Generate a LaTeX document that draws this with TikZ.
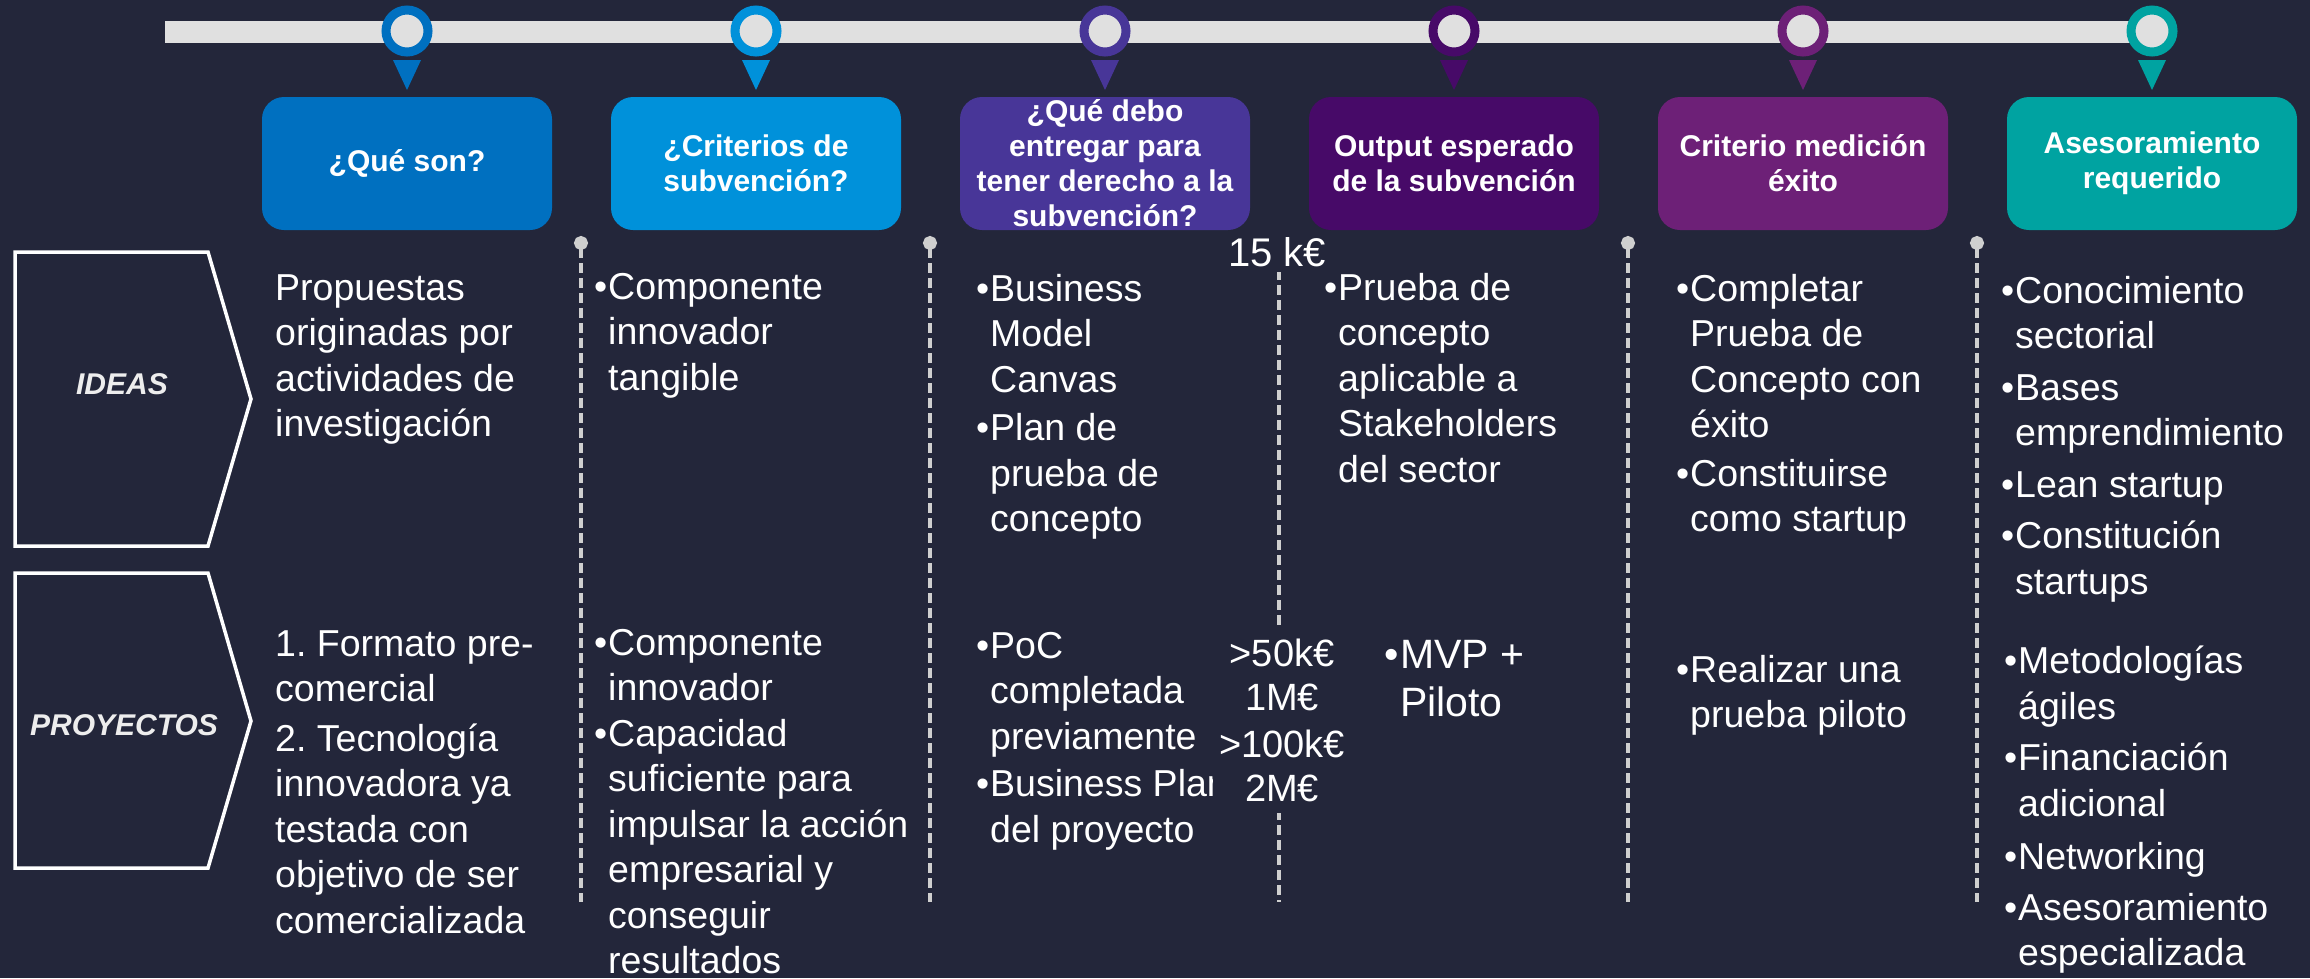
\documentclass[tikz,border=0pt]{standalone}
\usepackage{fontspec}
\setmainfont{Liberation Sans}
\usetikzlibrary{calc,arrows.meta}
\definecolor{bgnavy}{HTML}{23263A}
\definecolor{barlight}{HTML}{E0E0E0}
\definecolor{dashgrey}{HTML}{CFCFCF}
\definecolor{kblue}{HTML}{0070C0}
\definecolor{klightblue}{HTML}{0091DA}
\definecolor{kviolet}{HTML}{483698}
\definecolor{kpurple}{HTML}{470A68}
\definecolor{klilac}{HTML}{6D2077}
\definecolor{kteal}{HTML}{00A3A1}
\newcommand{\bul}{\llap{\textbullet\hspace{1pt}}}

\begin{document}
\begin{tikzpicture}[x=1pt, y=1pt,
  bar/.style={line width=22pt, barlight},
  pin/.style={circle, line width=9pt, fill=barlight, minimum size=42pt, inner sep=0pt},
  hdbox/.style={rounded corners=22pt, minimum width=290pt, minimum height=133pt, inner sep=0pt},
  hdtext/.style={font=\fontsize{30}{35}\selectfont\bfseries, text=white,
                 align=center, inner sep=0pt},
  % body text: top of the node sits 32pt above the first baseline
  body/.style={font=\fontsize{37.5}{45.5}\selectfont, text=white,
               align=left, anchor=north west, inner sep=0pt,
               execute at begin node={\rule{0pt}{32pt}}},
  amount/.style={font=\fontsize{38}{44}\selectfont, text=white, align=center,
                 anchor=base, fill=bgnavy, inner xsep=6pt, inner ysep=12pt},
  rowtag/.style={font=\fontsize{30}{36}\selectfont\bfseries\itshape, text=white!93!black},
  chevron/.style={draw=white, line width=3.5pt, line join=miter},
  sepline/.style={dashgrey, line width=3.5pt, dash pattern=on 10pt off 5pt},
  sepdot/.style={sepline, {Circle[length=14pt,width=14pt]}-},
]
\useasboundingbox (0,0) rectangle (2310,-978);
\fill[bgnavy] (0,0) rectangle (2310,-978);

% Timeline bar with the six pins
\coordinate (tl0) at (165,-32);
\coordinate (tl1) at (2151,-32);
\draw[bar] (tl0) -- (tl1);

\node[pin, draw=kblue] (p1) at (407,-31) {};
\node[pin, draw=klightblue] (p2) at (756,-31) {};
\node[pin, draw=kviolet] (p3) at (1105,-31) {};
\node[pin, draw=kpurple] (p4) at (1454,-31) {};
\node[pin, draw=klilac] (p5) at (1803,-31) {};
\node[pin, draw=kteal] (p6) at (2152,-31) {};

\fill[kblue] ($(p1)+(-14,-29)$) -- ($(p1)+(14,-29)$) -- ($(p1)+(0,-59)$) -- cycle;
\fill[klightblue] ($(p2)+(-14,-29)$) -- ($(p2)+(14,-29)$) -- ($(p2)+(0,-59)$) -- cycle;
\fill[kviolet] ($(p3)+(-14,-29)$) -- ($(p3)+(14,-29)$) -- ($(p3)+(0,-59)$) -- cycle;
\fill[kpurple] ($(p4)+(-14,-29)$) -- ($(p4)+(14,-29)$) -- ($(p4)+(0,-59)$) -- cycle;
\fill[klilac] ($(p5)+(-14,-29)$) -- ($(p5)+(14,-29)$) -- ($(p5)+(0,-59)$) -- cycle;
\fill[kteal] ($(p6)+(-14,-29)$) -- ($(p6)+(14,-29)$) -- ($(p6)+(0,-59)$) -- cycle;

% Column headers
\node[hdbox, fill=kblue] (h1) at (407,-163.5) {};
\node[hdbox, fill=klightblue] (h2) at (756,-163.5) {};
\node[hdbox, fill=kviolet] (h3) at (1105,-163.5) {};
\node[hdbox, fill=kpurple] (h4) at (1454,-163.5) {};
\node[hdbox, fill=klilac] (h5) at (1803,-163.5) {};
\node[hdbox, fill=kteal] (h6) at (2152,-163.5) {};

\node[hdtext] (t1) at (h1) {¿Qué son?};
\node[hdtext] (t2) at (h2) {¿Criterios de\\subvención?};
\node[hdtext] (t3) at (h3) {¿Qué debo\\entregar para\\tener derecho a la\\subvención?};
\node[hdtext] (t4) at (h4) {Output esperado\\de la subvención};
\node[hdtext] (t5) at (h5) {Criterio medición\\éxito};
\node[hdtext] (t6) at (h6) {Asesoramiento\\requerido};

% Row tags
\draw[chevron] (15,-252) -- (208,-252) -- (251,-399) -- (208,-546) -- (15,-546) -- cycle;
\draw[chevron] (15,-573) -- (208,-573) -- (251,-721) -- (208,-868) -- (15,-868) -- cycle;
\node[rowtag] (ideas) at (122,-384) {IDEAS};
\node[rowtag] (proyectos) at (124,-725) {PROYECTOS};

% Column separators
\foreach \x in {581,930,1628,1977}
  \draw[sepdot] (\x,-236) -- (\x,-902);
\draw[sepline] (1279,-270) -- (1279,-902);

% Row IDEAS
\node[body] (i1) at (275,-274) {Propuestas\\originadas por\\actividades de\\investigación};
\node[body] (i2) at (608,-273) {\bul Componente\\innovador\\tangible};
\node[body] (i3) at (990,-274) {\bul Business\\Model\\Canvas\\[3pt]\bul Plan de\\prueba de\\concepto};
\node[body] (i4) at (1338,-273) {\bul Prueba de\\concepto\\aplicable a\\Stakeholders\\del sector};
\node[body] (i5) at (1690,-274) {\bul Completar\\Prueba de\\Concepto con\\éxito\\[3pt]\bul Constituirse\\como startup};
\node[body] (i6) at (2015,-276) {\bul Conocimiento\\sectorial\\[6pt]\bul Bases\\emprendimiento\\[6pt]\bul Lean startup\\[6pt]\bul Constitución\\startups};

% Row PROYECTOS
\node[body] (r1) at (275,-630) {1.\ Formato pre-\\comercial\\[4pt]2.\ Tecnología\\innovadora ya\\testada con\\objetivo de ser\\comercializada};
\node[body] (r2) at (608,-629) {\bul Componente\\innovador\\[0pt]\bul Capacidad\\suficiente para\\impulsar la acción\\empresarial y\\conseguir\\resultados};
\node[body] (r3) at (990,-632) {\bul PoC\\completada\\previamente\\[2pt]\bul Business Plan\\del proyecto};
\node[body, font=\fontsize{41}{48}\selectfont] (r4) at (1400,-640) {\bul MVP +\\Piloto};
\node[body] (r5) at (1690,-655) {\bul Realizar una\\prueba piloto};
\node[body] (r6) at (2018,-646) {\bul Metodologías\\ágiles\\[6pt]\bul Financiación\\adicional\\[8pt]\bul Networking\\[5pt]\bul Asesoramiento\\especializada};

% Funding amounts on the middle separator
\node[amount, font=\fontsize{40}{46}\selectfont, inner ysep=6pt] (k15) at (1277,-266) {15 k€};
\node[amount] (amt) at (1282,-801) {>50k€\\1M€\\[3pt]>100k€\\2M€};

\end{tikzpicture}
\end{document}
